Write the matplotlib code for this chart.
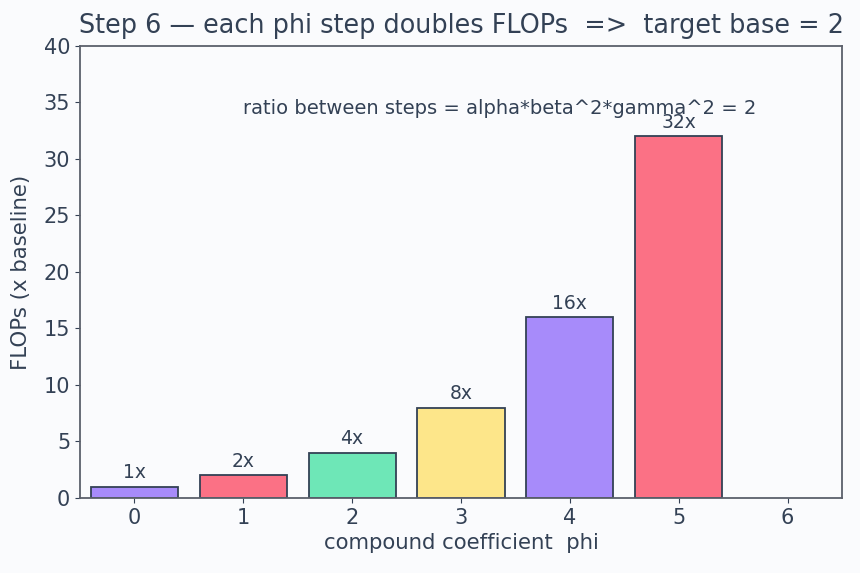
import matplotlib
matplotlib.use("Agg")
import matplotlib.pyplot as plt

phi = [0, 1, 2, 3, 4, 5]
flops = [1, 2, 4, 8, 16, 32]
labels = ["1x", "2x", "4x", "8x", "16x", "32x"]
colors = ["#a78bfa", "#fb7185", "#6ee7b7", "#fde68a", "#a78bfa", "#fb7185"]
xticks = [0, 1, 2, 3, 4, 5, 6]

txt = "#334155"
bg = "#fafbfd"

fig, ax = plt.subplots(figsize=(8.6, 5.73), dpi=100)
fig.patch.set_facecolor(bg)
ax.set_facecolor(bg)

ax.bar(phi, flops, width=0.8, color=colors, edgecolor=txt, linewidth=1.3)
for x, v, lab in zip(phi, flops, labels):
    ax.text(x, v + 0.4, lab, ha="center", va="bottom", fontsize=13.5, color=txt)

ax.text(1, 33.6, "ratio between steps = alpha*beta^2*gamma^2 = 2",
        ha="left", va="bottom", fontsize=14, color=txt)

ax.set_xlim(-0.5, 6.5)
ax.set_ylim(0, 40)
ax.set_xticks(xticks)
ax.set_title("Step 6 — each phi step doubles FLOPs  =>  target base = 2",
             fontsize=18.4, color=txt, pad=9)
ax.set_xlabel("compound coefficient  phi", fontsize=15.3, color=txt)
ax.set_ylabel("FLOPs (x baseline)", fontsize=15.3, color=txt, labelpad=9)
ax.tick_params(colors=txt, labelsize=15)
for s in ax.spines.values():
    s.set_color("#5b606b")
    s.set_linewidth(1.3)

fig.subplots_adjust(left=0.093, right=0.979, top=0.92, bottom=0.131)
fig.savefig("out.png", dpi=100, facecolor=bg)
